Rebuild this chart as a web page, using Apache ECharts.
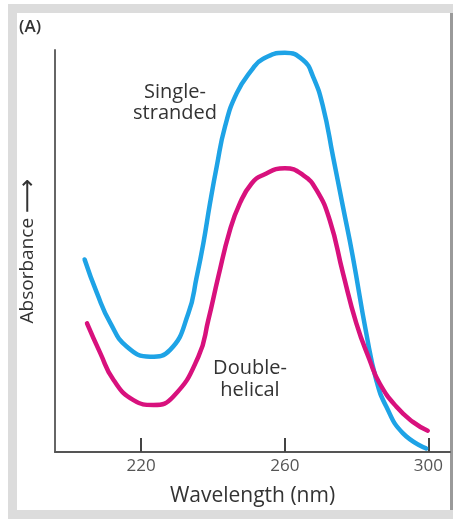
<!DOCTYPE html>
<html>
<head>
<meta charset="utf-8">
<script src="https://cdn.jsdelivr.net/npm/echarts@6/dist/echarts.min.js"></script>
<style>
html,body{margin:0;padding:0;background:#fff;}
#chart{width:453px;height:519px;}
</style>
</head>
<body>
<div id="chart"></div>
<script>
// Wavelength (nm) and relative absorbance
const singleNm = [204.25, 207.69, 211.39, 216.03, 222.5, 228.06, 233.14, 235.47, 237.31, 239.17, 241.03, 243.33, 246.58, 250.75, 253.97, 260.0, 265.08, 267.86, 270.64, 273.42, 276.19, 278.89, 282.69, 285.47, 288.25, 292.86, 299.36];
const singleAbs = [0.479, 0.395, 0.321, 0.262, 0.237, 0.254, 0.345, 0.436, 0.519, 0.619, 0.710, 0.809, 0.892, 0.950, 0.978, 0.993, 0.975, 0.934, 0.859, 0.735, 0.610, 0.488, 0.295, 0.179, 0.113, 0.047, 0.009];
const doubleNm = [204.92, 208.61, 212.31, 217.86, 223.42, 228.97, 235.92, 238.69, 241.47, 244.72, 247.5, 250.75, 253.97, 260.0, 265.08, 268.81, 272.5, 276.19, 279.92, 283.61, 286.39, 291.03, 295.64, 299.81];
const doubleAbs = [0.320, 0.246, 0.179, 0.129, 0.117, 0.138, 0.237, 0.328, 0.436, 0.552, 0.619, 0.668, 0.689, 0.706, 0.689, 0.652, 0.577, 0.445, 0.320, 0.229, 0.171, 0.113, 0.075, 0.053];
const xTicks = [220, 260, 300];
const seriesNames = ['Single-\nstranded', 'Double-\nhelical'];

const chart = echarts.init(document.getElementById('chart'), null, {renderer: 'canvas'});
const FONT = '"Open Sans", "DejaVu Sans", sans-serif';
const zip = (a, b) => a.map((v, i) => [v, b[i]]);

chart.setOption({
  animation: false,
  backgroundColor: '#ffffff',
  graphic: [
    {type: 'rect', z: -10, shape: {x: 8, y: 4, width: 445, height: 515}, style: {fill: '#dcdcdc'}, silent: true},
    {type: 'rect', z: -9, shape: {x: 17, y: 13, width: 433, height: 497}, style: {fill: '#ffffff'}, silent: true},
    {type: 'rect', z: -9, shape: {x: 450, y: 13, width: 3, height: 497}, style: {fill: '#9a9a9a'}, silent: true},
    {type: 'text', x: 19, y: 27, style: {text: '(A)', font: '600 17px ' + FONT, fill: '#333', verticalAlign: 'middle'}},
    {type: 'text', x: 175, y: 103, style: {text: seriesNames[0], font: '20px ' + FONT, fill: '#333', align: 'center', verticalAlign: 'middle', lineHeight: 21.5}},
    {type: 'text', x: 250, y: 379, style: {text: seriesNames[1], font: '20px ' + FONT, fill: '#333', align: 'center', verticalAlign: 'middle', lineHeight: 22}}
  ],
  grid: {left: 55, right: 3, top: 50, bottom: 67, containLabel: false},
  xAxis: {
    type: 'value', min: 196, max: 306,
    name: 'Wavelength (nm)', nameLocation: 'middle', nameGap: 34,
    nameTextStyle: {fontFamily: FONT, fontSize: 21, color: '#333'},
    axisLine: {show: true, lineStyle: {color: '#555', width: 2}},
    axisTick: {show: true, inside: true, length: 14, lineStyle: {color: '#444', width: 2}, customValues: xTicks},
    axisLabel: {customValues: xTicks, fontFamily: FONT, fontSize: 17, color: '#555', margin: 6},
    splitLine: {show: false}
  },
  yAxis: {
    type: 'value', min: 0, max: 1,
    name: '{t|Absorbance} {a|\u27F6}', nameLocation: 'middle', nameGap: 15, nameRotate: 90,
    nameTextStyle: {fontFamily: FONT, fontSize: 19, color: '#333',
      rich: {t: {fontFamily: FONT, fontSize: 19, color: '#333'}, a: {fontFamily: FONT, fontSize: 24, color: '#333'}}},
    axisLine: {show: true, onZero: false, lineStyle: {color: '#666', width: 2}},
    axisTick: {show: false}, axisLabel: {show: false}, splitLine: {show: false}
  },
  series: [
    {name: 'Single-stranded', type: 'line', data: zip(singleNm, singleAbs), smooth: 0.5, showSymbol: false,
     lineStyle: {color: '#1ea3e6', width: 4.5, cap: 'round'}, z: 3},
    {name: 'Double-helical', type: 'line', data: zip(doubleNm, doubleAbs), smooth: 0.5, showSymbol: false,
     lineStyle: {color: '#d8117d', width: 4.5, cap: 'round'}, z: 4}
  ]
});
</script>
</body>
</html>
